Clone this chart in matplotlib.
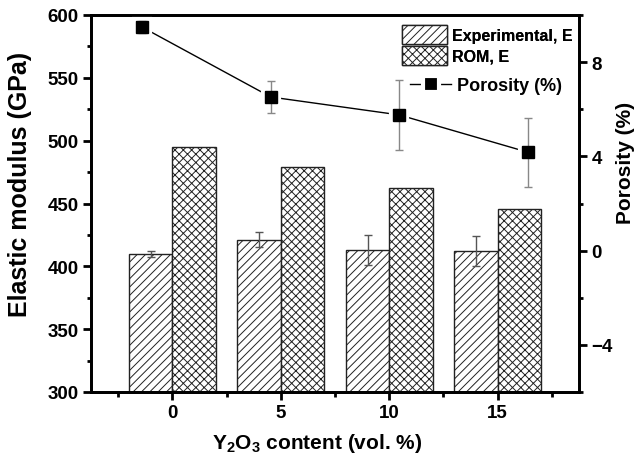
import matplotlib
matplotlib.use("Agg")
import matplotlib.pyplot as plt
import numpy as np
from matplotlib.ticker import MultipleLocator, FixedLocator

plt.rcParams["font.family"] = ["Liberation Sans", "DejaVu Sans"]
plt.rcParams["font.weight"] = "bold"
plt.rcParams["mathtext.fontset"] = "custom"
plt.rcParams["mathtext.rm"] = "Liberation Sans:bold"
plt.rcParams["mathtext.bf"] = "Liberation Sans:bold"
plt.rcParams["hatch.linewidth"] = 0.7

# Y2O3 content (vol. %)
content = [0, 5, 10, 15]
# Elastic modulus (GPa)
exp_E = [410, 421, 413, 412]
exp_err = [2.5, 6, 12.3, 12]
rom_E = [495, 479, 462, 446]
# Porosity (%)
porosity = [9.48, 6.52, 5.76, 4.18]
porosity_err = [0.25, 0.7, 1.49, 1.46]

fig = plt.figure(figsize=(6.44, 4.60), dpi=100)
fig.subplots_adjust(left=91/644, right=579/644, top=1-16/460, bottom=1-393/460)
ax = fig.add_subplot(111)

x = np.array(content, dtype=float)
w = 2.0
ax.bar(x - w/2, exp_E, width=w, color="white", edgecolor="#222222",
       linewidth=1.0, hatch="////", label="Experimental, E", zorder=2)
ax.bar(x + w/2, rom_E, width=w, color="white", edgecolor="#222222",
       linewidth=1.0, hatch="xxxx", label="ROM, E", zorder=2)
ax.errorbar(x - w/2, exp_E, yerr=exp_err, fmt="none", ecolor="#555555",
            elinewidth=1.0, capsize=2.7, capthick=1.0, zorder=3)

ax.set_xlim(-3.75, 18.75)
ax.set_ylim(300, 600)
ax.xaxis.set_major_locator(FixedLocator(content))
ax.xaxis.set_minor_locator(FixedLocator([-2.5, 2.5, 7.5, 12.5, 17.5]))
ax.yaxis.set_major_locator(MultipleLocator(50))
ax.yaxis.set_minor_locator(MultipleLocator(25))
ax.set_xlabel(r"Y$_\mathbf{2}$O$_\mathbf{3}$ content (vol. %)", fontsize=15,
              fontweight="bold", labelpad=7)
ax.xaxis.label.set_x(0.464)
ax.set_ylabel("Elastic modulus (GPa)", fontsize=18, fontweight="bold")
ax.yaxis.set_label_coords(-0.121, 0.552)

# Porosity on its own y scale, evenly spaced across the samples
ax2 = ax.twinx()
ax2.set_ylim(-6, 10)
ax2.yaxis.set_major_locator(MultipleLocator(4))
ax2.yaxis.set_minor_locator(MultipleLocator(2))
ax2.set_ylabel("Porosity (%)", fontsize=15, fontweight="bold")
ax2.yaxis.set_label_coords(1.076, 0.61)

ax3 = ax2.twiny()
ax3.set_xlim(-0.4, 3.4)
ax3.set_xticks([])
for s in ax3.spines.values():
    s.set_visible(False)
idx = np.arange(len(porosity))
line, = ax3.plot(idx, porosity, "-s", color="black", linewidth=1.0,
                 markersize=11.5, markerfacecolor="black",
                 markeredgecolor="white", markeredgewidth=3.0, zorder=3,
                 label="Porosity (%)")
ax3.errorbar(idx, porosity, yerr=porosity_err, fmt="none", ecolor="#888888",
             elinewidth=1.0, capsize=2.8, capthick=1.0, zorder=4)
ax3.plot(idx, porosity, "s", color="black", markersize=8.5, zorder=5)

for a in (ax, ax2):
    for s in a.spines.values():
        s.set_linewidth(2.0)
    a.tick_params(which="major", direction="out", length=5.5, width=2.0,
                  labelsize=13.5)
    a.tick_params(which="minor", direction="out", length=3.0, width=2.0)
ax.tick_params(axis="x", which="minor", length=3.5)
ax.tick_params(axis="x", which="both", top=False)
ax.tick_params(axis="y", which="both", right=False)
for lab in ax.get_xticklabels() + ax.get_yticklabels() + ax2.get_yticklabels():
    lab.set_fontweight("bold")

leg1 = ax.legend(loc="upper right", bbox_to_anchor=(1.006, 1.0), frameon=False,
                 prop={"size": 11.5, "weight": "bold"}, handlelength=2.8,
                 handleheight=1.5, handletextpad=0.3, labelspacing=0.1,
                 borderaxespad=0.2)
ax.add_artist(leg1)
ax3.legend(handles=[line], loc="upper right", bbox_to_anchor=(0.987, 0.864),
           frameon=False, prop={"size": 13, "weight": "bold"},
           handlelength=2.3, handletextpad=0.3, borderaxespad=0.2)

fig.savefig("out.png", dpi=100)
